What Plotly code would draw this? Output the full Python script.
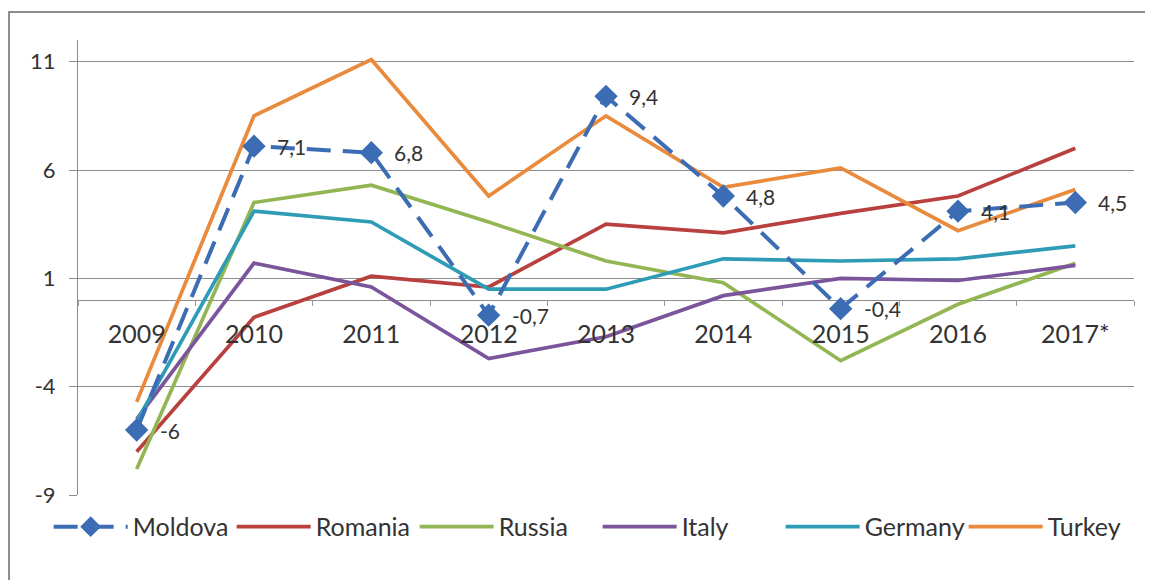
import plotly.graph_objects as go

years = ["2009", "2010", "2011", "2012", "2013", "2014", "2015", "2016", "2017*"]
moldova = [-6.0, 7.1, 6.8, -0.7, 9.4, 4.8, -0.4, 4.1, 4.5]
romania = [-7.0, -0.8, 1.1, 0.6, 3.5, 3.1, 4.0, 4.8, 7.0]
russia = [-7.8, 4.5, 5.3, 3.6, 1.8, 0.8, -2.8, -0.2, 1.7]
italy = [-5.5, 1.7, 0.6, -2.7, -1.7, 0.2, 1.0, 0.9, 1.6]
germany = [-5.6, 4.1, 3.6, 0.5, 0.5, 1.9, 1.8, 1.9, 2.5]
turkey = [-4.7, 8.5, 11.1, 4.8, 8.5, 5.2, 6.1, 3.2, 5.1]
moldova_labels = ["-6", "7,1", "6,8", "-0,7", "9,4", "4,8", "-0,4", "4,1", "4,5"]
y_tickvals = [11, 6, 1, -4, -9]
y_ticktext = ["11", "6", "1", "-4", "-9"]

FONT = "Lato, 'Open Sans', sans-serif"
TXT = "#333333"
GRID = "#8C8C8C"

fig = go.Figure()

series = [
    ("Romania", romania, "#B8413F", 2),
    ("Russia", russia, "#93B654", 3),
    ("Italy", italy, "#7A559C", 4),
    ("Germany", germany, "#2F9CB6", 5),
    ("Turkey", turkey, "#E98A3C", 6),
]
for name, vals, col, rank in series:
    fig.add_trace(go.Scatter(
        x=years, y=vals, name=name, mode="lines",
        line=dict(color=col, width=3.7), legendrank=rank,
    ))

fig.add_trace(go.Scatter(
    x=years, y=moldova, name="Moldova",
    mode="lines+markers",
    line=dict(color="#3C6DB4", width=4, dash="24px,12px"),
    marker=dict(symbol="diamond", size=18, color="#3C6DB4"),
    legendrank=1,
))

# data labels (category index positions on the category axis)
for i, (yv, lab) in enumerate(zip(moldova, moldova_labels)):
    fig.add_annotation(
        x=i, y=yv, text=lab, showarrow=False,
        xanchor="left", yanchor="middle", xshift=21,
        font=dict(family=FONT, size=21, color=TXT),
    )

fig.update_layout(
    width=1153, height=580,
    margin=dict(l=70, r=27, t=32, b=93, autoexpand=False),
    paper_bgcolor="white", plot_bgcolor="white",
    font=dict(family=FONT, color=TXT),
    showlegend=True,
    legend=dict(
        orientation="h", x=-0.0278, xanchor="left", y=-0.0196, yanchor="top",
        font=dict(family=FONT, size=25, color=TXT),
        traceorder="normal",
        itemwidth=74,
        entrywidth=94,
        entrywidthmode="pixels",
    ),
    xaxis=dict(
        type="category",
        range=[-0.5, 8.5],
        anchor="free", position=9 / 21,
        showline=False,
        showgrid=False,
        ticks="outside", ticklen=5, tickcolor="#999999",
        tickson="boundaries",
        ticklabelstandoff=17,
        tickfont=dict(family=FONT, size=25, color=TXT),
        zeroline=False,
    ),
    yaxis=dict(
        range=[-9, 12],
        tickmode="array", tickvals=y_tickvals, ticktext=y_ticktext,
        showgrid=True, gridcolor=GRID, gridwidth=1,
        zeroline=True, zerolinecolor=GRID, zerolinewidth=1,
        showline=True, linecolor=GRID, linewidth=1,
        ticks="outside", ticklen=8, tickcolor=GRID,
        ticklabelstandoff=9,
        tickfont=dict(family=FONT, size=22, color=TXT),
    ),
)

# outer chart border
fig.add_shape(type="rect", xref="paper", yref="paper",
              x0=-0.0653, x1=1.05, y0=-0.3, y1=1.0615,
              line=dict(color=GRID, width=2), fillcolor="rgba(0,0,0,0)",
              layer="below")

fig.write_html("out.html")
